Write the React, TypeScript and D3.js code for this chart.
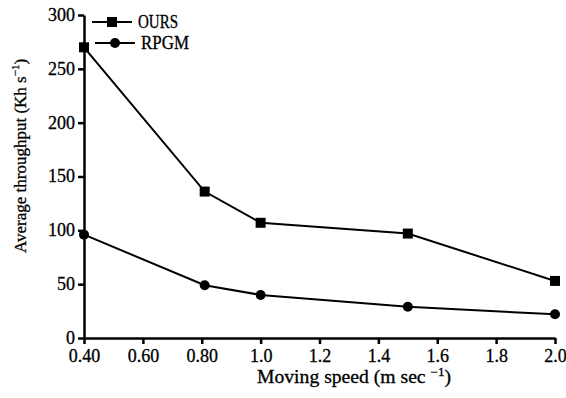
import { useEffect, useRef } from 'react';
import * as d3 from 'd3';

const speeds = [0.4, 0.81, 1.0, 1.5, 2.0];
const oursValues = [270, 136, 107, 97, 53];
const rpgmValues = [96, 49, 40, 29, 22];
const xTicks = [0.4, 0.6, 0.8, 1.0, 1.2, 1.4, 1.6, 1.8, 2.0];
const xTickLabels = ['0.40', '0.60', '0.80', '1.0', '1.2', '1.4', '1.6', '1.8', '2.0'];
const yTicks = [0, 50, 100, 150, 200, 250, 300];
const seriesNames = ['OURS', 'RPGM'];

const W = 566;
const H = 398;
const FONT = 'Liberation Serif';

function serif(sel: d3.Selection<any, any, any, any>, size: number) {
    sel.attr('font-family', FONT)
        .attr('font-size', size)
        .attr('fill', '#000')
        .attr('stroke', '#000')
        .attr('stroke-width', 0.3);
}

// fit a text element to a given width
function fitTo(sel: d3.Selection<any, any, any, any>, width: number) {
    sel.attr('textLength', width).attr('lengthAdjust', 'spacingAndGlyphs');
}

export default function App() {
    const svgRef = useRef<SVGSVGElement>(null);

    useEffect(() => {
        if (!svgRef.current) return;
        const svg = d3.select(svgRef.current);
        svg.selectAll('*').remove();

        const x = d3.scaleLinear().domain([0.4, 2.0]).range([84, 555]);
        const y = d3.scaleLinear().domain([0, 300]).range([338, 15]);

        // Axes
        const xAxis = svg.append('g')
            .attr('transform', `translate(0,${y(0)})`)
            .call(d3.axisBottom(x).tickValues(xTicks).tickFormat((_, i) => xTickLabels[i]).tickSize(6).tickSizeOuter(0));
        const yAxis = svg.append('g')
            .attr('transform', `translate(${x(0.4)},0)`)
            .call(d3.axisLeft(y).tickValues(yTicks).tickSize(6).tickSizeOuter(0));

        [xAxis, yAxis].forEach(ax => {
            ax.attr('font-family', FONT).attr('font-size', 18);
            ax.select('.domain').attr('stroke', '#000').attr('stroke-width', 2.5);
            ax.selectAll('.tick line').attr('stroke', '#000').attr('stroke-width', 2.5);
            ax.selectAll('.tick text').attr('fill', '#000').attr('stroke', '#000').attr('stroke-width', 0.3);
        });
        xAxis.selectAll('.tick text').attr('y', 11);
        yAxis.selectAll('.tick text').attr('x', -9).attr('dy', '0.3em');

        // Lines
        const line = d3.line<number>()
            .x((_, i) => x(speeds[i]))
            .y(d => y(d));

        [oursValues, rpgmValues].forEach(vals => {
            svg.append('path')
                .attr('d', line(vals) as string)
                .attr('fill', 'none')
                .attr('stroke', '#000')
                .attr('stroke-width', 2);
        });

        svg.append('g').selectAll('rect')
            .data(oursValues)
            .enter()
            .append('rect')
            .attr('x', (_, i) => x(speeds[i]) - 5)
            .attr('y', d => y(d) - 5)
            .attr('width', 10)
            .attr('height', 10)
            .attr('fill', '#000');

        svg.append('g').selectAll('circle')
            .data(rpgmValues)
            .enter()
            .append('circle')
            .attr('cx', (_, i) => x(speeds[i]))
            .attr('cy', d => y(d))
            .attr('r', 5)
            .attr('fill', '#000');

        // Legend
        const legend = svg.append('g');
        const rows = [{ x0: 92, y0: 22, w: 40 }, { x0: 95, y0: 43, w: 48 }];
        rows.forEach((r, i) => {
            legend.append('line')
                .attr('x1', r.x0).attr('x2', r.x0 + 40)
                .attr('y1', r.y0).attr('y2', r.y0)
                .attr('stroke', '#000').attr('stroke-width', 2.2);
            if (i === 0) {
                legend.append('rect')
                    .attr('x', r.x0 + 20 - 5).attr('y', r.y0 - 5)
                    .attr('width', 10).attr('height', 10).attr('fill', '#000');
            } else {
                legend.append('circle')
                    .attr('cx', r.x0 + 20).attr('cy', r.y0).attr('r', 5).attr('fill', '#000');
            }
            legend.append('text')
                .attr('x', r.x0 + 46).attr('y', r.y0 + 6)
                .call(serif, 18)
                .text(seriesNames[i])
                .call(fitTo, r.w);
        });

        // Axis titles
        const xt = svg.append('text')
            .attr('x', 257).attr('y', 383)
            .call(serif, 18);
        xt.append('tspan').text('Moving speed (m sec ');
        xt.append('tspan').attr('dy', -7).attr('font-size', 12).text('−1');
        xt.append('tspan').attr('dy', 7).text(')');
        fitTo(xt, 194);

        const yt = svg.append('text')
            .attr('transform', 'translate(26,253) rotate(-90)')
            .call(serif, 17);
        yt.append('tspan').text('Average throughput (Kh s');
        yt.append('tspan').attr('dy', -7).attr('font-size', 11).text('−1');
        yt.append('tspan').attr('dy', 7).text(')');
    }, []);

    return (
        <svg ref={svgRef} width={W} height={H} style={{ position: 'absolute', left: 0, top: 0, background: '#fff' }} />
    );
}
